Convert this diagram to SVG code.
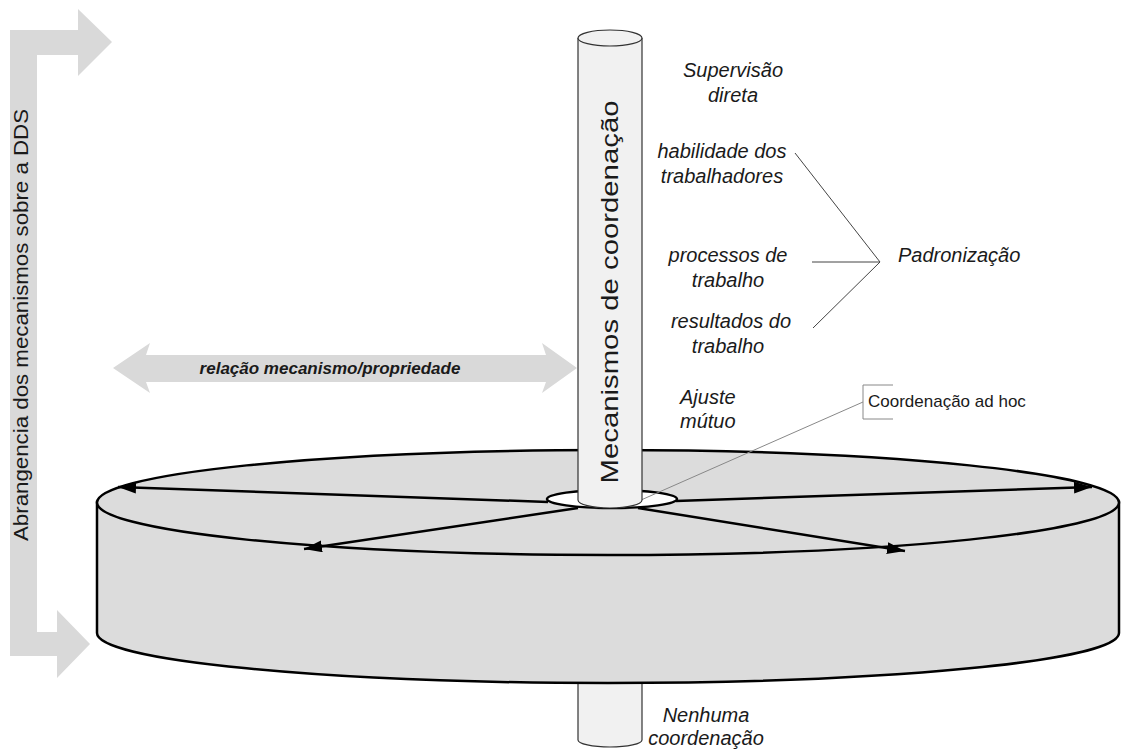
<svg xmlns="http://www.w3.org/2000/svg" width="1121" height="749" viewBox="0 0 1121 749">
<defs>
<style>
.lbl{font-family:"Liberation Sans",Arial,sans-serif;font-style:italic;font-size:20px;fill:#1a1a1a}
.reg{font-family:"Liberation Sans",Arial,sans-serif;fill:#1a1a1a}
.big{fill:#d9d9d9;stroke:none}
.conn{stroke:#444;stroke-width:1;fill:none}
.spoke{stroke:#000;stroke-width:2.5;fill:none;marker-end:url(#ah)}
.pillar{fill:#f1f1f1;stroke:#333;stroke-width:1.2}
</style>
<marker id="ah" markerUnits="userSpaceOnUse" markerWidth="20" markerHeight="14" refX="18" refY="6" orient="auto">
<path d="M0,0 L18,6 L0,12 Z" fill="#000"/>
</marker>
</defs>

<g id="scope-arrow">
<path class="big" d="M10,30 L78,30 L78,9 L112,42 L78,76 L78,55 L37,55 L37,632 L57,632 L57,610 L90,644 L57,678 L57,656 L10,656 Z"/>
<text class="reg" font-size="21" text-anchor="middle" textLength="432" lengthAdjust="spacingAndGlyphs" transform="translate(28,325) rotate(-90)">Abrangencia dos mecanismos sobre a DDS</text>
</g>

<g id="relation-arrow">
<path class="big" d="M113,368 L150,343 L146,355 L546,355 L542,343 L577,368 L542,393 L546,382 L146,382 L150,393 Z"/>
<text class="reg" font-size="17" font-weight="bold" font-style="italic" text-anchor="middle" x="330" y="374">relação mecanismo/propriedade</text>
</g>

<g id="bottom-pillar">
<path class="pillar" d="M578,683 L578,740 A32,7 0 0 0 642,740 L642,683"/>
</g>

<g id="disc">
<path d="M97,502 L97,633 A511,50 0 0 0 1119,633 L1119,502 Z" fill="#dcdcdc" stroke="#000" stroke-width="2.5"/>
<ellipse cx="608" cy="502.5" rx="511" ry="52.5" fill="#dcdcdc" stroke="#000" stroke-width="2.5"/>
<ellipse cx="612" cy="499" rx="65" ry="9" fill="#fff" stroke="#000" stroke-width="2.5"/>
</g>

<g id="connectors">
<line class="spoke" x1="548" y1="502" x2="118" y2="487"/>
<line class="spoke" x1="578" y1="508" x2="304" y2="549"/>
<line class="spoke" x1="676" y1="501" x2="1092" y2="487"/>
<line class="spoke" x1="638" y1="508" x2="905" y2="551"/>
<line class="conn" x1="795" y1="153" x2="880" y2="262"/>
<line class="conn" x1="812" y1="262" x2="880" y2="262"/>
<line class="conn" x1="813" y1="328" x2="880" y2="262"/>
<line x1="863" y1="402" x2="632" y2="504" stroke="#888" stroke-width="1"/>
</g>

<g id="main-pillar">
<path class="pillar" d="M578,38 L578,500 A32,8 0 0 0 642,500 L642,38"/>
<ellipse class="pillar" cx="610" cy="38" rx="32" ry="8"/>
<text class="reg" font-size="24" text-anchor="middle" textLength="383" lengthAdjust="spacingAndGlyphs" transform="translate(618,292) rotate(-90)">Mecanismos de coordenação</text>
</g>

<g id="supervisao">
<text class="lbl" text-anchor="middle" x="733" y="77">Supervisão</text>
<text class="lbl" text-anchor="middle" x="733" y="102">direta</text>
</g>
<g id="habilidade">
<text class="lbl" text-anchor="middle" x="722" y="158">habilidade dos</text>
<text class="lbl" text-anchor="middle" x="722" y="183">trabalhadores</text>
</g>
<g id="processos">
<text class="lbl" text-anchor="middle" x="728" y="262">processos de</text>
<text class="lbl" text-anchor="middle" x="728" y="287">trabalho</text>
</g>
<g id="resultados">
<text class="lbl" text-anchor="middle" x="731" y="328">resultados do</text>
<text class="lbl" text-anchor="middle" x="728" y="353">trabalho</text>
</g>
<g id="padronizacao">
<text class="lbl" x="898" y="262">Padronização</text>
</g>
<g id="ajuste">
<text class="lbl" x="680" y="404">Ajuste</text>
<text class="lbl" x="680" y="428">mútuo</text>
</g>
<g id="adhoc">
<path d="M893,385 L863,385 L863,419 L893,419" fill="none" stroke="#888" stroke-width="1"/>
<text class="reg" font-size="17" x="868" y="407">Coordenação ad hoc</text>
</g>
<g id="nenhuma">
<text class="lbl" text-anchor="middle" x="706" y="722">Nenhuma</text>
<text class="lbl" text-anchor="middle" x="706" y="745">coordenação</text>
</g>
</svg>
